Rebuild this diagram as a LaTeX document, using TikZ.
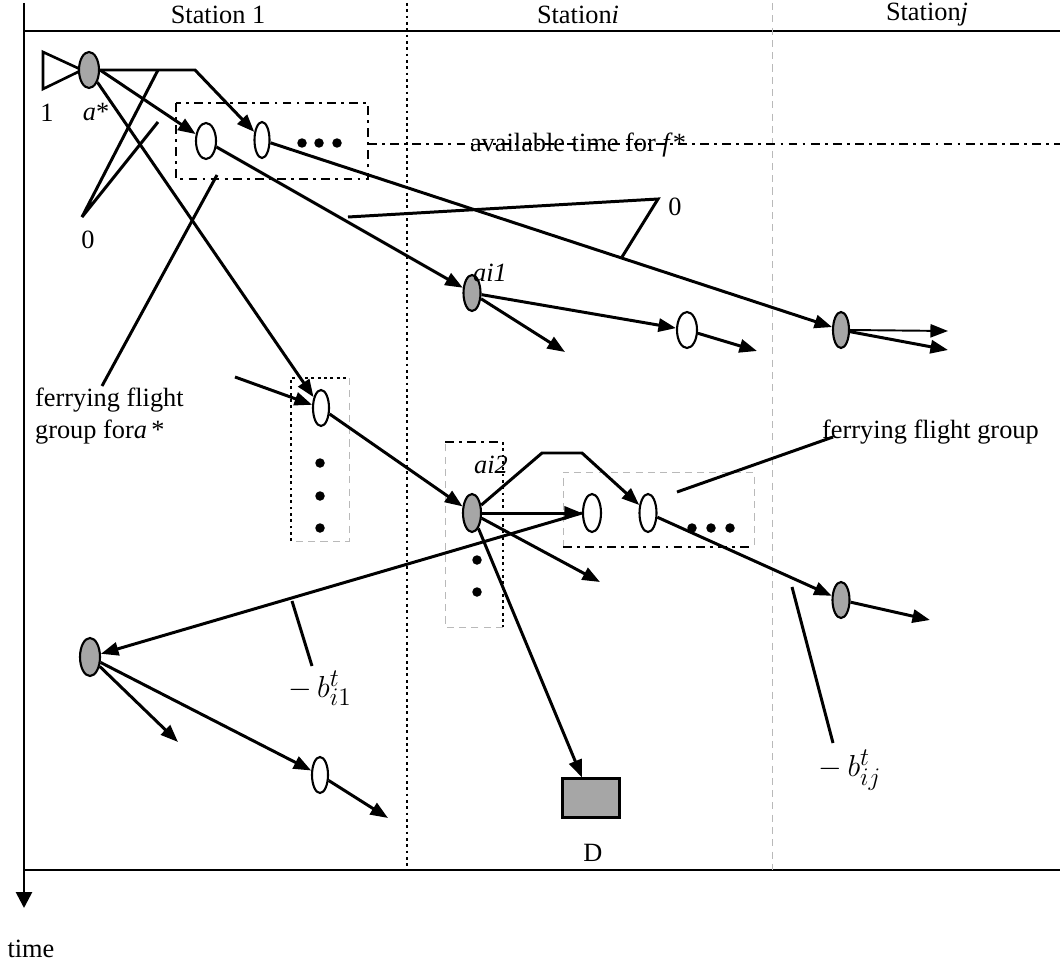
\documentclass[tikz,border=0pt]{standalone}
\usepackage{fontspec}
\setmainfont{Liberation Serif}
\usepackage{tikz}
\usetikzlibrary{positioning,arrows.meta,shapes.geometric,calc}
\definecolor{nodegray}{RGB}{166,166,166}
\definecolor{faint}{RGB}{185,185,185}
\tikzset{
  lbl/.style={font=\fontsize{15}{18}\selectfont, inner sep=1pt},
  mathlbl/.style={font=\fontsize{19}{22}\selectfont, inner sep=1pt},
  grayell/.style={ellipse, draw, line width=1.2pt, fill=nodegray, inner sep=0pt,
                  minimum width=0.36cm, minimum height=0.72cm},
  whiteell/.style={grayell, fill=white},
  arrow/.style={-{Triangle[length=10pt,width=7.5pt]}, line width=1.7pt},
  thinarrow/.style={arrow, line width=1.1pt},
  callout/.style={line width=1.7pt},
  dashdot/.style={line width=1.6pt, dash pattern=on 5pt off 3pt on 1.6pt off 3pt},
  dotline/.style={line width=1.6pt, dash pattern=on 1.6pt off 2pt},
  faintdash/.style={draw=faint, line width=0.5pt, dash pattern=on 4pt off 3pt},
  bigdot/.style={circle, fill, inner sep=0pt, minimum size=0.19cm},
}

\begin{document}
\begin{tikzpicture}[x=0.02cm, y=-0.02cm]
  \useasboundingbox (0,0) rectangle (1060,966);

  % frame and stations
  \draw[-{Triangle[length=9pt,width=9pt]}, line width=1.5pt] (24,3) -- (24,908);
  \draw[line width=1.5pt] (24,31) -- (1060,31);
  \draw[line width=1.5pt] (24,870) -- (1060,870);
  \draw[dotline] (407,3) -- (407,870);
  \draw[faintdash] (772,3) -- (772,870);
  \node[lbl] (st1) at (218,15) {Station 1};
  \node[lbl] (sti) at (578,15) {Station\textit{i}};
  \node[lbl] (stj) at (927,15) {Station\textit{j}};
  \node[lbl] (time) at (31,949) {time};

  % nodes
  \draw[line width=1.5pt] (43,52) -- (82,70) -- (43,89) -- cycle;
  \node[grayell, minimum width=0.4cm]   (astar) at (89,70)   {};
  \node[whiteell, minimum width=0.4cm]  (g1)    at (206,141) {};
  \node[whiteell, minimum width=0.3cm]  (g2)    at (262,140) {};
  \node[whiteell, minimum width=0.32cm] (gv)    at (321,408) {};
  \node[grayell, minimum width=0.34cm]  (ai1)   at (472,293) {};
  \node[whiteell, minimum width=0.4cm]  (f3)    at (687,330) {};
  \node[grayell, minimum width=0.32cm]  (sj1)   at (841,330) {};
  \node[grayell, minimum height=0.76cm] (ai2)   at (472,513) {};
  \node[whiteell, minimum height=0.76cm] (h1)   at (592,513) {};
  \node[whiteell, minimum width=0.34cm, minimum height=0.76cm] (h2) at (648,513) {};
  \node[grayell, minimum width=0.34cm]  (sj2)   at (841,600) {};
  \node[grayell, minimum width=0.4cm, minimum height=0.76cm] (s1b) at (90,657) {};
  \node[whiteell, minimum width=0.32cm] (w1)    at (320,775) {};
  \node[draw, line width=1.2pt, fill=nodegray, minimum width=1.14cm, minimum height=0.78cm,
        inner sep=0pt] (D) at (591,798) {};

  \node[lbl] (one)  at (47,113)  {1};
  \node[lbl] (astarlbl) at (96,112) {\textit{a}*};
  \node[lbl] (zero1) at (88,240) {0};
  \node[lbl] (zero2) at (675,207) {0};
  \node[lbl] (ai1lbl) at (490,273) {\textit{ai1}};
  \node[lbl] (ai2lbl) at (491,465) {\textit{ai2}};
  \node[lbl] (Dlbl) at (593,853) {D};
  \node[lbl, align=left, anchor=west] (grpa) at (33,416) {ferrying flight\\group for\textit{a}\,*};
  \node[lbl, anchor=west] (grp) at (820,432) {ferrying flight group};
  \node[mathlbl] (bi1) at (320,688) {$-\,b^{t}_{i1}$};
  \node[mathlbl] (bij) at (850,770) {$-\,b^{t}_{ij}$};

  % groups
  \draw[dashdot] (176,103) rectangle (368,179);
  \foreach \x in {302,319,337} \node[bigdot] at (\x,143) {};
  \draw[dashdot] (368,144) -- (1060,144);
  \node[lbl] (avail) at (578,145) {available time for \textit{f}*};

  \draw[dotline] (291,541) -- (291,378) -- (349,378);
  \draw[faintdash] (349,378) -- (349,541) -- (291,541);
  \foreach \y in {463,496,528} \node[bigdot] at (320,\y) {};

  \draw[dashdot] (445,442) -- (503,442);
  \draw[dotline] (503,442) -- (503,627);
  \draw[faintdash] (503,627) -- (445,627) -- (445,442);
  \foreach \y in {560,592} \node[bigdot] at (477,\y) {};

  \draw[faintdash] (563,547) -- (563,472) -- (754,472) -- (754,547);
  \draw[dashdot] (563,547) -- (754,547);
  \foreach \x in {692,711,730} \node[bigdot] at (\x,528) {};

  % free ends
  \coordinate (bend1) at (195,70);
  \coordinate (feed) at (235,377);
  \coordinate (ai1out) at (565,352);
  \coordinate (f3out) at (757,351);
  \coordinate (sj1outa) at (948,331);
  \coordinate (sj1outb) at (948,350);
  \coordinate (bend2) at (542,453);
  \coordinate (bend3) at (582,453);
  \coordinate (ai2out) at (600,582);
  \coordinate (sj2out) at (930,620);
  \coordinate (s1bout) at (178,742);
  \coordinate (w1out) at (388,818);

  % connectors
  \draw[arrow] (astar.east) -- (g1);
  \draw[arrow] (astar) -- (gv);
  \draw[arrow] (astar.east) -- (bend1) -- (g2);
  \draw[arrow] (g1) -- (ai1);
  \draw[arrow] (g2) -- (sj1);
  \draw[arrow] (feed) -- (gv);
  \draw[arrow] (gv) -- (ai2);
  \draw[arrow] (ai1) -- (ai1out);
  \draw[arrow] (ai1) -- (f3);
  \draw[arrow] (f3) -- (f3out);
  \draw[thinarrow] (sj1.east) -- (sj1outa);
  \draw[arrow] (sj1) -- (sj1outb);
  \draw[arrow] (ai2) -- (h1);
  \draw[arrow] (ai2) -- (bend2) -- (bend3) -- (h2);
  \draw[arrow] (ai2) -- (ai2out);
  \draw[arrow] (ai2) -- ([xshift=-0.18cm]D.north);
  \draw[arrow] (h1.west) -- (s1b);
  \draw[arrow] (h2) -- (sj2);
  \draw[arrow] (sj2) -- (sj2out);
  \draw[arrow] (s1b) -- (s1bout);
  \draw[arrow] (s1b) -- (w1);
  \draw[arrow] (w1) -- (w1out);

  % callouts
  \draw[callout] (158,70) -- (82,217) -- (158,122);
  \draw[callout] (348,217) -- (658,199) -- (622,257);
  \draw[callout] (217,175) -- (102,386);
  \draw[callout] (677,492) -- (833,437);
  \draw[callout] (292,601) -- (312,666);
  \draw[callout] (792,587) -- (833,743);
\end{tikzpicture}
\end{document}
